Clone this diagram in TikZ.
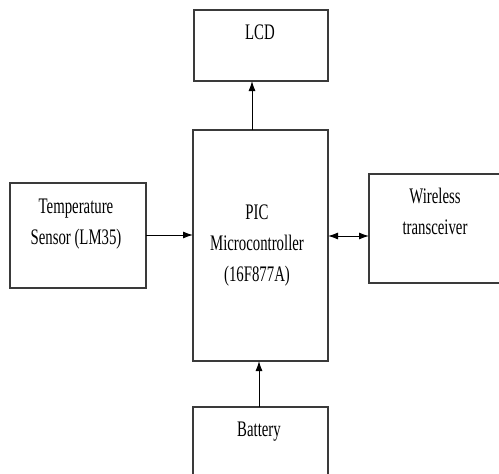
\documentclass[tikz,border=0pt]{standalone}
\usepackage{fontspec}
\setmainfont{Liberation Serif}
\usetikzlibrary{arrows.meta}
\newcommand{\lbl}[1]{\scalebox{1}[1.5]{\fontsize{14.8}{20.7}\selectfont\begin{tabular}[t]{@{}c@{}}#1\end{tabular}}}
\definecolor{boxline}{HTML}{3A3A3A}
\begin{document}
\begin{tikzpicture}[x=1pt,y=-1pt,
  box/.style={draw=boxline,line width=1.3pt,inner sep=0pt,outer sep=0pt,anchor=north west,fill=white},
  txt/.style={inner sep=0pt,anchor=base},
  arr/.style={line width=1pt,-{Latex[length=10pt,width=7pt]}},
  darr/.style={line width=1pt,{Latex[length=10pt,width=7pt]}-{Latex[length=10pt,width=7pt]}}]
\path[use as bounding box] (0,0) rectangle (499,474);
\clip (0,0) rectangle (499,474);
\node[box,minimum width=134pt,minimum height=71pt] (lcd) at (194,10) {};
\node[box,minimum width=135pt,minimum height=231pt] (pic) at (193,130) {};
\node[box,minimum width=135pt,minimum height=90pt] (bat) at (193,407) {};
\node[box,minimum width=136pt,minimum height=105pt] (temp) at (10,183) {};
\node[box,minimum width=145pt,minimum height=109pt] (wire) at (369,174) {};
\node[txt] (lcdt) at (260,39) {\lbl{LCD}};
\node[txt] (pict) at (257,219) {\lbl{PIC\\Microcontroller\\(16F877A)}};
\node[txt] (tempt) at (76,213) {\lbl{Temperature\\Sensor (LM35)}};
\node[txt] (wiret) at (435,203) {\lbl{Wireless\\transceiver}};
\node[txt] (batt) at (259,436) {\lbl{Battery}};
\coordinate (lx) at (252,0);
\coordinate (bx) at (259,0);
\coordinate (ty) at (0,235);
\coordinate (wy) at (0,236);
\draw[arr] (pic.north -| lx) -- (lcd.south -| lx);
\draw[arr] (bat.north -| bx) -- (pic.south -| bx);
\draw[arr] (temp.east |- ty) -- (pic.west |- ty);
\draw[darr] (pic.east |- wy) -- (wire.west |- wy);
\end{tikzpicture}
\end{document}
